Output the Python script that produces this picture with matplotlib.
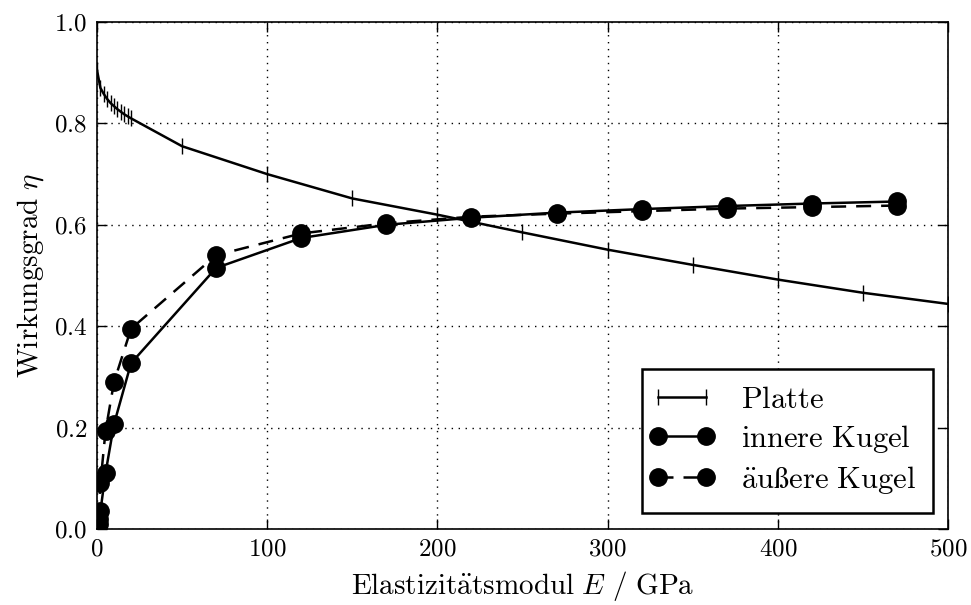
import matplotlib
matplotlib.use("Agg")
import matplotlib.pyplot as plt
from matplotlib.legend_handler import HandlerLine2D

# Platte: efficiency over Young's modulus
platte_E = [0, 2, 4, 6, 8, 10, 12, 14, 16, 18, 20,
            50, 100, 150, 200, 250, 300, 350, 400, 450, 500]
platte_eta = [0.905, 0.870, 0.858, 0.848, 0.840, 0.834, 0.828, 0.823, 0.818, 0.814, 0.810,
              0.755, 0.700, 0.652, 0.620, 0.585, 0.551, 0.521, 0.492, 0.466, 0.444]

# Kugel: inner and outer sphere
kugel_E = [1, 2, 5, 10, 20, 70, 120, 170, 220, 270, 320, 370, 420, 470]
innere_eta = [0.010, 0.035, 0.110, 0.207, 0.327, 0.515, 0.574, 0.600,
              0.614, 0.624, 0.631, 0.637, 0.642, 0.646]
aeussere_eta = [0.020, 0.090, 0.193, 0.290, 0.395, 0.540, 0.583, 0.603,
                0.616, 0.622, 0.627, 0.632, 0.635, 0.638]

plt.rcParams['font.family'] = ['cmr10', 'DejaVu Serif']
plt.rcParams['mathtext.fontset'] = 'cm'
plt.rcParams['axes.formatter.use_mathtext'] = True
plt.rcParams['xtick.direction'] = 'in'
plt.rcParams['ytick.direction'] = 'in'

fig = plt.figure(figsize=(9.71, 6.05), dpi=100)
ax = fig.add_axes([0.0999, 0.1256, 0.8764, 0.838])

l1, = ax.plot(platte_E, platte_eta, color='black', lw=1.8, marker='|', ms=11, mew=1,
              label=r'$\mathrm{Platte}$')
l2, = ax.plot(kugel_E, innere_eta, color='black', lw=1.8, ls='-', marker='o', ms=12.5,
              label=r'$\mathrm{innere\ Kugel}$')
l3, = ax.plot(kugel_E, aeussere_eta, color='black', lw=1.8, ls=(0, (6, 4)), marker='o', ms=12.5,
              label=r'$\mathrm{\ddot{a}u\ss ere\ Kugel}$')

ax.set_xlim(0, 500)
ax.set_ylim(0, 1.0)
ax.set_xticks([0, 100, 200, 300, 400, 500])
ax.set_yticks([0.0, 0.2, 0.4, 0.6, 0.8, 1.0])
ax.tick_params(top=True, right=True, labelsize=18, length=7, width=1, pad=7)
ax.grid(True, color='black', ls=(0, (1, 4)), lw=1)
for s in ax.spines.values():
    s.set_linewidth(1.2)

ax.set_xlabel(r'$\mathrm{Elastizit\ddot{a}tsmodul}\ E\ /\ \mathrm{GPa}$', fontsize=21, labelpad=6)
ax.set_ylabel(r'$\mathrm{Wirkungsgrad}\ \eta$', fontsize=21, labelpad=6)

hm = {l: HandlerLine2D(marker_pad=0) for l in (l1, l2, l3)}
leg = ax.legend(loc='lower right', fontsize=22, fancybox=False, framealpha=1,
                edgecolor='black', borderpad=0.55, handlelength=1.55, numpoints=2,
                handletextpad=1.15, labelspacing=0.3, borderaxespad=0,
                bbox_to_anchor=(0.982, 0.032), handler_map=hm)
leg.get_frame().set_linewidth(1.8)

fig.savefig('out.png', dpi=100)
